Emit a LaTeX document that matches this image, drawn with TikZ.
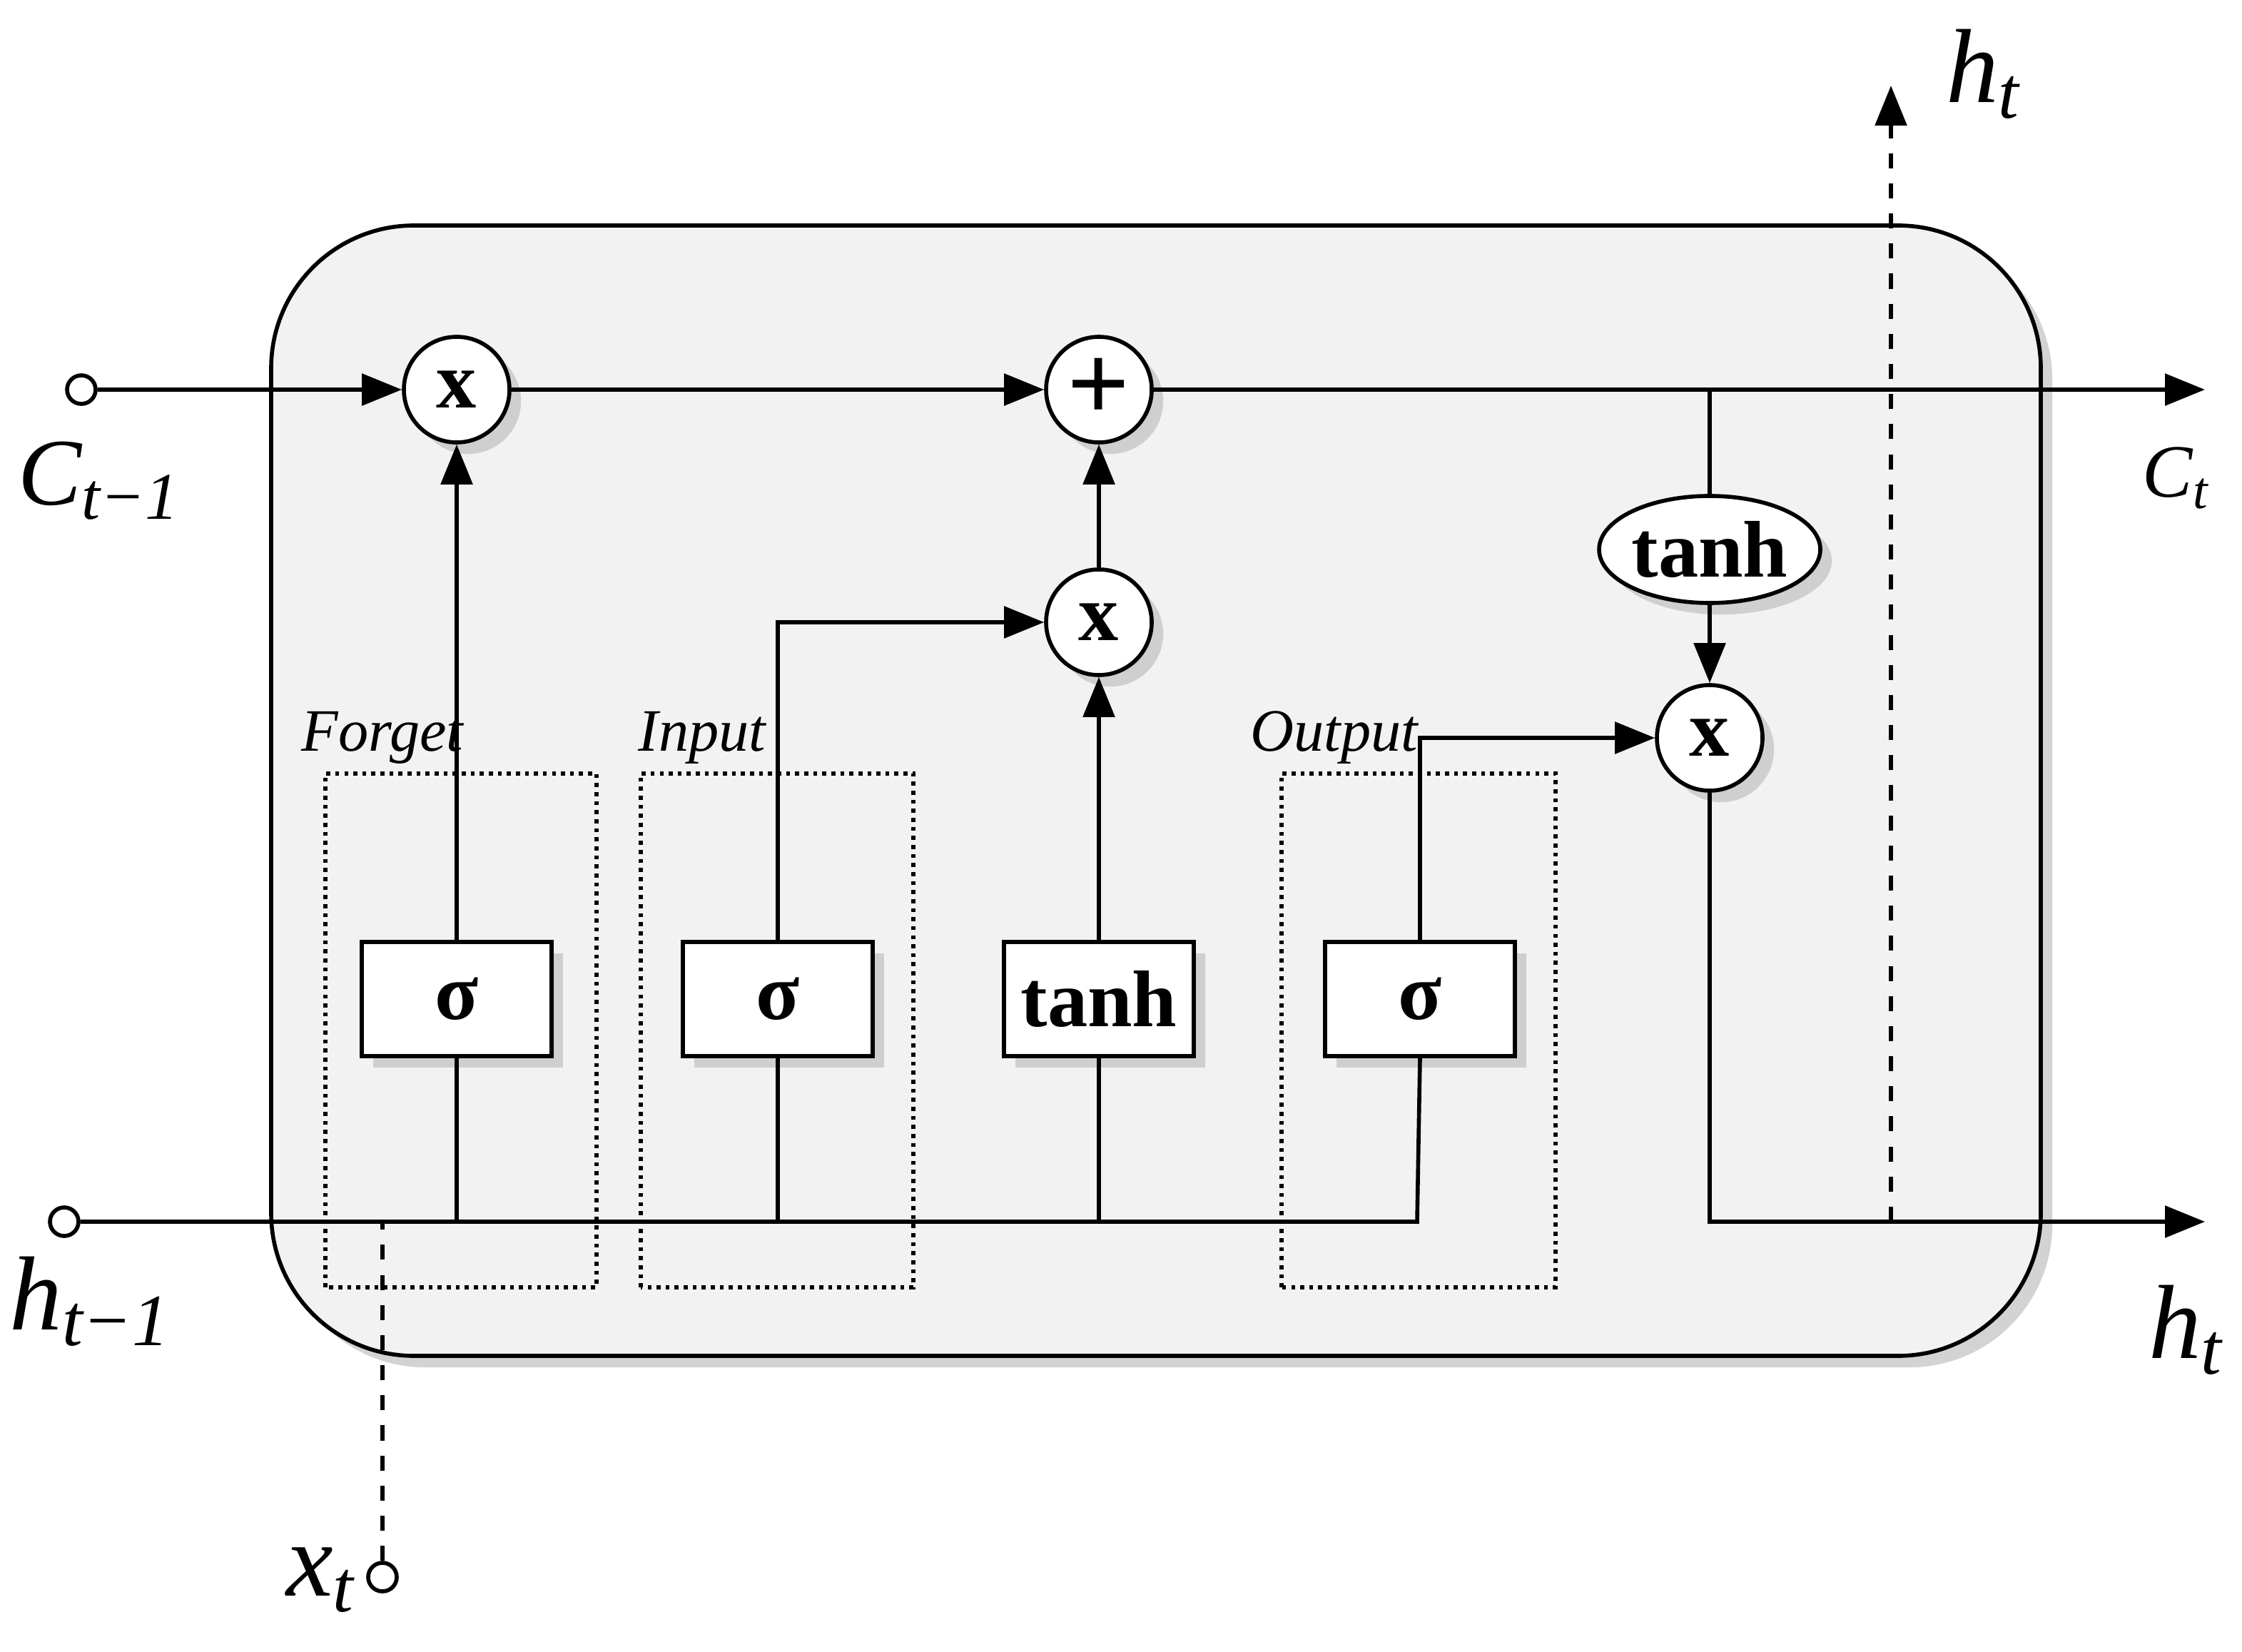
\documentclass[tikz,border=0pt]{standalone}
\usepackage{fontspec}
\setmainfont{Liberation Serif}
\usetikzlibrary{arrows.meta,shadows,shapes.geometric}
\tikzset{
  op/.style={circle, draw, thick, fill=white, minimum size=0.74cm, inner sep=0pt, font=\fontsize{16}{18}\selectfont\bfseries, drop shadow={opacity=0.3}},
  gate/.style={rectangle, draw, thick, fill=white, minimum width=1.33cm, minimum height=0.8cm, font=\fontsize{16}{18}\selectfont\bfseries, drop shadow={opacity=0.3}},
  port/.style={circle, draw, thick, fill=white, minimum size=0.2cm, inner sep=0pt},
  frame/.style={draw, densely dotted, thick},
  flow/.style={thick, -{Triangle[length=0.28cm, width=0.22cm]}},
  big/.style={font=\fontsize{21}{24}\selectfont\itshape, inner sep=0pt},
  tag/.style={font=\fontsize{12}{14}\selectfont\itshape}
}
\begin{document}
\begin{tikzpicture}
  % picture from (0,0) to (15.71,11.57)
  \useasboundingbox (0,0) rectangle (15.71,11.57);

  % cell body
  \draw[thick, fill=gray!10, rounded corners=1cm, drop shadow={opacity=0.35}] (1.90,2.07) rectangle (14.30,9.99);

  % gate frames
  \draw[frame] (2.28,2.55) rectangle (4.18,6.15);
  \draw[frame] (4.49,2.55) rectangle (6.40,6.15);
  \draw[frame] (8.98,2.55) rectangle (10.90,6.15);
  \node[tag] (lf) at (2.68,6.40) {Forget};
  \node[tag] (li) at (4.92,6.40) {Input};
  \node[tag] (lo) at (9.35,6.40) {Output};

  % ports
  \node[port] (cin) at (0.57,8.84) {};
  \node[port] (hin) at (0.45,3.01) {};
  \node[port] (xin) at (2.68,0.52) {};
  \coordinate (cout) at (15.45,8.84);
  \coordinate (hout) at (15.45,3.01);
  \coordinate (hup) at (13.25,10.97);

  % operators
  \node[op] (mf) at (3.20,8.84) {x};
  \node[op, font=\fontsize{22}{24}\selectfont\bfseries] (add) at (7.70,8.84) {+};
  \node[op] (mi) at (7.70,7.21) {x};
  \node[op] (mo) at (11.98,6.40) {x};
  \node[ellipse, draw, thick, fill=white, minimum width=1.55cm, minimum height=0.75cm, inner sep=0pt,
        font=\fontsize{16}{18}\selectfont\bfseries, drop shadow={opacity=0.3}] (tc) at (11.98,7.72) {tanh};

  % gates
  \node[gate] (sf) at (3.20,4.57) {σ};
  \node[gate] (si) at (5.45,4.57) {σ};
  \node[gate] (tg) at (7.70,4.57) {tanh};
  \node[gate] (so) at (9.95,4.57) {σ};

  % cell state
  \draw[flow] (cin) -- (mf);
  \draw[flow] (mf) -- (add);
  \draw[flow] (add) -- (cout);
  \draw[thick] (11.98,8.84) -- (tc);
  \draw[flow] (tc) -- (mo);

  % hidden state
  \draw[thick] (hin) -- (9.93,3.01) -- (so.south);
  \draw[thick] (3.20,3.01) -- (sf.south);
  \draw[thick] (5.45,3.01) -- (si.south);
  \draw[thick] (7.70,3.01) -- (tg.south);
  \draw[thick, dashed] (xin) -- (2.68,3.01);

  % gate outputs
  \draw[flow] (sf) -- (mf);
  \draw[flow] (si.north) |- (mi);
  \draw[flow] (tg) -- (mi);
  \draw[flow] (mi) -- (add);
  \draw[flow] (so.north) |- (mo);
  \draw[flow] (mo) |- (hout);
  \draw[flow, dashed] (13.25,3.01) -- (hup);

  % labels
  \node[font=\fontsize{19}{22}\selectfont\itshape, inner sep=0pt, anchor=west] (lc0) at (0.12,8.20) {C\textsubscript{t−1}};
  \node[font=\fontsize{15}{16}\selectfont\itshape, inner sep=0pt] (lc1) at (15.25,8.22) {C\textsubscript{t}};
  \node[big, anchor=west] (lh0) at (0.06,2.45) {h\textsubscript{t−1}};
  \node[big] (lh1) at (15.32,2.25) {h\textsubscript{t}};
  \node[big] (lh2) at (13.90,11.05) {h\textsubscript{t}};
  \node[big] (lx) at (2.25,0.50) {x\textsubscript{t}};
\end{tikzpicture}
\end{document}
